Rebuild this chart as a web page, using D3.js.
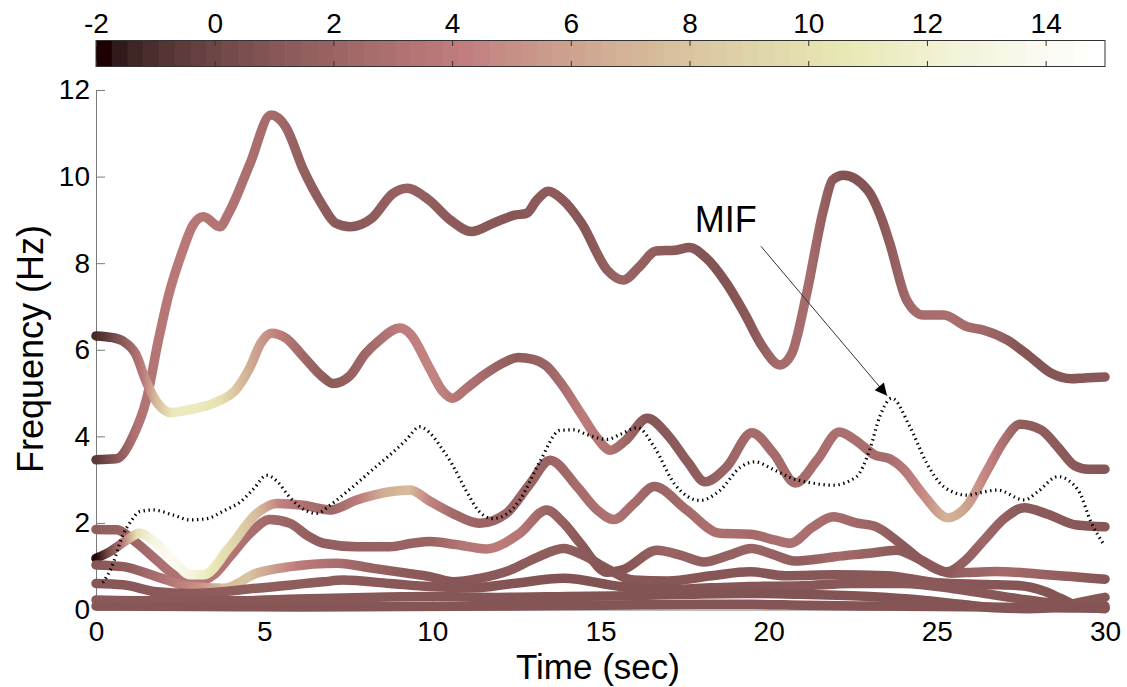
<!DOCTYPE html>
<html><head><meta charset="utf-8">
<script src="https://cdn.jsdelivr.net/npm/d3@7/dist/d3.min.js"></script>
<style>
body{margin:0;background:#fff;}
svg{display:block;font-family:"Liberation Sans",Arial,Helvetica,sans-serif;}
</style>
</head><body>
<svg id="chart" width="1127" height="687"></svg>
<script>
// ---------------- DATA ----------------
const colorbarTicks = [-2,0,2,4,6,8,10,12,14];
const xTicks = [0,5,10,15,20,25,30];
const yTicks = [0,2,4,6,8,10,12];

// IMF instantaneous frequency curves: [time (s), frequency (Hz)]
const curveA = [[0,3.46],[0.6,3.48],[1.1,4.0],[1.5,4.85],[1.85,6.2],[2.14,7.2],[2.56,8.25],[2.9,8.9],[3.2,9.07],[3.68,8.84],[3.94,9.15],[4.58,10.3],[5.2,11.42],[5.64,11.15],[6.17,10.15],[6.7,9.38],[7.13,8.92],[7.55,8.84],[8.19,9.03],[8.83,9.61],[9.25,9.73],[9.9,9.46],[10.53,9.0],[11.16,8.73],[11.8,8.92],[12.44,9.11],[12.8,9.15],[13.1,9.45],[13.45,9.66],[13.85,9.48],[14.44,8.92],[15.2,7.84],[15.68,7.61],[16.16,7.92],[16.65,8.28],[17.23,8.3],[17.65,8.36],[18.1,8.15],[18.75,7.53],[19.28,6.84],[19.82,6.07],[20.34,5.65],[20.68,5.9],[21.13,7.3],[21.63,9.23],[21.9,9.92],[22.22,10.03],[22.94,9.69],[23.37,9.0],[23.6,8.46],[24.1,7.15],[24.6,6.8],[25.2,6.8],[25.9,6.53],[26.4,6.45],[27.1,6.22],[27.77,5.84],[28.42,5.45],[29.0,5.33],[29.4,5.35],[30,5.37]];
const curveB = [[0,6.32],[0.5,6.28],[0.8,6.2],[1.18,5.9],[1.5,5.25],[1.8,4.8],[2.24,4.55],[2.8,4.62],[3.6,4.8],[4.15,5.07],[4.58,5.6],[4.9,6.15],[5.22,6.38],[5.64,6.27],[6.17,5.84],[6.7,5.4],[7.05,5.22],[7.55,5.4],[8.0,5.9],[8.4,6.2],[9.04,6.5],[9.36,6.35],[9.9,5.6],[10.3,5.05],[10.6,4.88],[11.0,5.1],[11.5,5.4],[12.0,5.65],[12.55,5.82],[13.0,5.78],[13.4,5.62],[13.8,5.25],[14.44,4.5],[14.87,3.99],[15.3,3.68],[15.74,3.9],[16.39,4.42],[17.03,4.0],[17.6,3.4],[18.11,2.95],[18.76,3.3],[19.5,4.08],[20.15,3.6],[20.8,2.92],[21.44,3.45],[22.1,4.1],[22.6,3.9],[23.15,3.57],[23.6,3.48],[24.0,3.25],[24.55,2.7],[25.33,2.12],[25.87,2.37],[26.5,3.22],[27.0,3.9],[27.47,4.28],[28.1,4.15],[28.6,3.75],[29.1,3.32],[29.5,3.24],[30,3.24]];
const curveE = [[0,1.18],[0.42,1.34],[0.91,1.6],[1.3,1.76],[1.8,1.53],[2.3,1.14],[2.8,0.8],[3.19,0.8],[3.98,1.45],[4.78,2.22],[5.37,2.45],[6.16,2.41],[6.96,2.3],[7.75,2.53],[8.74,2.72],[9.34,2.76],[9.93,2.5],[10.6,2.22],[11.4,1.99],[12.2,2.22],[12.9,2.9],[13.5,3.45],[14.3,2.84],[14.9,2.3],[15.4,2.08],[16.0,2.45],[16.6,2.84],[17.56,2.3],[18.55,1.76],[19.45,1.74],[20.2,1.6],[20.64,1.53],[21.3,1.9],[21.92,2.14],[22.6,2.0],[23.2,1.91],[23.9,1.53],[24.6,1.1],[25.3,0.87],[25.8,1.1],[26.4,1.6],[27.0,2.1],[27.6,2.35],[28.3,2.2],[29.16,1.95],[30,1.91]];
const curveC = [[0,1.85],[0.62,1.84],[1.11,1.6],[1.8,1.14],[2.4,0.76],[3.0,0.64],[3.5,0.8],[3.98,1.22],[4.58,1.76],[5.17,2.08],[5.77,1.99],[6.3,1.7],[6.76,1.53],[7.75,1.45],[8.74,1.45],[9.4,1.53],[9.93,1.57],[10.7,1.5],[11.6,1.4],[12.6,1.76],[13.4,2.3],[13.9,2.0],[14.4,1.53],[15.2,0.86],[15.7,0.93],[16.68,1.37],[17.4,1.25],[18.08,1.1],[18.8,1.25],[19.49,1.41],[20.1,1.28],[20.78,1.12],[21.4,1.16],[21.97,1.22],[23.0,1.3],[23.8,1.37],[24.5,1.15],[25.43,0.84],[26.1,0.86],[26.73,0.88],[28.0,0.82],[29.0,0.76],[30,0.7]];
const curveF = [[0,1.03],[0.81,0.99],[1.8,0.76],[2.8,0.53],[3.79,0.49],[4.78,0.84],[5.77,0.99],[7.16,1.07],[8.25,0.95],[9.24,0.84],[9.93,0.76],[10.62,0.64],[11.4,0.72],[12.31,0.91],[13.1,1.2],[13.9,1.41],[14.5,1.25],[15.18,0.95],[15.98,0.68],[17.0,0.66],[18.3,0.78],[19.45,0.87],[20.5,0.78],[22.0,0.8],[23.5,0.78],[25.0,0.62],[26.5,0.58],[27.5,0.55],[28.2,0.42],[28.7,0.25],[29.3,0.06],[30,0.02]];
const curveG = [[0,0.6],[0.81,0.57],[1.8,0.41],[2.8,0.37],[4.78,0.49],[6.76,0.64],[7.35,0.68],[8.74,0.6],[9.93,0.53],[11.2,0.5],[12.4,0.6],[13.9,0.72],[15.6,0.53],[17.0,0.46],[18.3,0.5],[19.45,0.53],[21.0,0.55],[22.5,0.6],[24.0,0.6],[25.5,0.48],[26.5,0.36],[27.5,0.24],[28.5,0.14],[30,0.08]];
const curveH = [[0,0.22],[2,0.2],[4,0.2],[6,0.24],[8,0.28],[10,0.3],[12,0.28],[14,0.3],[16,0.32],[18,0.36],[19.5,0.37],[21,0.35],[23,0.3],[24.5,0.22],[25.7,0.12],[26.7,0.04],[27.7,0.02],[28.7,0.07],[29.2,0.16],[30,0.28]];
const curveI = [[0,0.08],[3,0.07],[6,0.06],[9,0.07],[12,0.08],[15,0.1],[18,0.12],[19.5,0.12],[21,0.1],[23,0.08],[25,0.07],[27,0.05],[30,0.03]];

// amplitude (colour value) along each curve: [time (s), value]
const ampA = [[0,-0.6],[0.5,0.8],[1.2,3.2],[2.5,3.8],[4,3.2],[5.2,2.6],[6.2,1.6],[7.5,1.1],[9.2,1.8],[10.5,1.3],[12.4,1.0],[13.5,1.4],[14.5,1.0],[15.6,2.0],[17,1.3],[18.5,0.8],[19.5,1.2],[20.3,2.6],[21.2,2.6],[22.2,0.8],[23.2,1.0],[24.3,2.6],[25.5,2.8],[26.5,2.2],[27.5,0.9],[29,1.0],[30,1.2]];
const ampB = [[0,-1.2],[0.5,0.2],[1.0,2.0],[1.4,4.0],[1.8,7.5],[2.3,11],[3.0,11.2],[3.7,10],[4.3,7.5],[4.9,5.5],[5.4,4.2],[6.2,2.2],[7.0,1.3],[8.0,2.2],[9.0,4.0],[10.0,4.5],[11.0,3.2],[12.5,1.4],[13.4,2.0],[14.5,4.0],[15.3,3.2],[16.4,1.0],[18.0,1.5],[19.5,2.6],[21.0,2.6],[22.1,3.0],[23.5,2.6],[24.5,4.5],[25.3,7.0],[25.9,6.0],[26.6,4.2],[27.5,1.5],[30,1.0]];
const ampE = [[0,-1.8],[0.35,0.2],[0.8,4],[1.2,10],[1.7,13],[2.3,14],[2.9,12.5],[3.4,11],[4.0,9.5],[4.8,7.5],[5.5,4.2],[6.2,3],[7.0,2.2],[7.8,4],[8.5,6.5],[9.3,7.5],[9.9,4.5],[10.6,2.5],[11.4,2],[13.5,2],[14.3,2.6],[15.4,3.2],[16.6,2],[17.6,2.6],[18.5,3],[19.5,2.5],[20.6,3],[22,2.6],[23.2,2],[24,1.2],[25.3,1.2],[26.4,2.2],[27.4,1.3],[30,1]];
const ampC = [[0,1.5],[1,2],[2,3],[3,3.6],[4,3.4],[5.2,2.4],[6.5,1.5],[8,1.8],[10,2],[11,3.5],[12,4],[12.6,3.5],[13.4,2],[14.5,1.2],[15.5,0.8],[17,2],[18,1.5],[19.5,2],[21,1.5],[22,2.5],[23.8,1.3],[25.4,1.5],[27,2.5],[30,1]];
const ampF = [[0,1],[1,1.5],[2,3.2],[3,5],[3.8,7.5],[4.5,8],[5.2,6],[6,4],[7,3],[8,2],[9.5,1.2],[10.6,1],[12.3,1.3],[13.9,1.5],[15,1],[20,1],[25,1.1],[30,0.8]];
const ampG = [[0,1],[5,1.5],[10,1],[15,0.8],[20,1],[25,1.2],[30,0.8]];
const ampH = [[0,1.2],[10,1],[20,0.8],[30,1]];
const ampI = [[0,1],[15,0.9],[30,0.9]];

// MIF (mean instantaneous frequency), dotted
const mif = [[0.2,0.62],[0.45,0.95],[0.8,1.72],[1.05,2.05],[1.3,2.26],[1.7,2.3],[2.3,2.18],[2.8,2.07],[3.3,2.1],[3.8,2.28],[4.3,2.49],[4.7,2.8],[5.07,3.1],[5.4,2.95],[5.7,2.65],[6.0,2.41],[6.56,2.22],[6.96,2.41],[7.35,2.65],[7.75,2.91],[8.25,3.25],[8.74,3.57],[9.2,3.9],[9.63,4.22],[9.9,4.1],[10.3,3.7],[10.6,3.34],[11.0,2.75],[11.4,2.26],[11.8,2.1],[12.2,2.2],[12.6,2.53],[13.2,3.42],[13.8,4.14],[14.2,4.15],[14.6,4.04],[15.2,3.93],[15.6,4.05],[16.1,4.2],[16.6,3.75],[17.2,2.9],[17.96,2.52],[18.55,2.75],[19.15,3.28],[19.6,3.41],[20.1,3.25],[20.7,3.03],[21.3,2.92],[21.9,2.87],[22.6,3.06],[23.0,3.68],[23.3,4.45],[23.66,4.88],[24.2,4.22],[24.7,3.38],[25.2,2.84],[25.9,2.64],[26.3,2.7],[26.8,2.76],[27.6,2.53],[28.0,2.72],[28.6,3.07],[29.2,2.76],[29.6,1.99],[29.95,1.52]];

const mifLabel = "MIF";
const mifLabelPos = [17.8, 8.72];
const arrowFrom = [19.77, 8.39];
const arrowTo = [23.52, 4.94];

// ---------------- COLORMAP (MATLAB "pink", 64 levels) ----------------
function pinkMap(m){
  const n = Math.floor(3/8*m);
  const out = [];
  for (let i=0;i<m;i++){
    const gr = i/(m-1);
    const r = i<n ? (i+1)/n : 1;
    const g = i<n ? 0 : (i<2*n ? (i-n+1)/n : 1);
    const b = i<2*n ? 0 : (i-2*n+1)/(m-2*n);
    out.push(d3.rgb(255*Math.sqrt((2*gr+r)/3),255*Math.sqrt((2*gr+g)/3),255*Math.sqrt((2*gr+b)/3)).formatHex());
  }
  return out;
}
const cmap = pinkMap(64);
const cMin = -2, cMax = 15;
const colorScale = d3.scaleLinear()
  .domain(cmap.map((c,i)=> cMin + (i+0.5)*(cMax-cMin)/64))
  .range(cmap).clamp(true).interpolate(d3.interpolateRgb);

// ---------------- LAYOUT ----------------
const svg = d3.select("#chart");
const x = d3.scaleLinear().domain([0,30]).range([96,1105]);
const y = d3.scaleLinear().domain([0,12]).range([609.5,90]);
const axisGray = "#7a7a7a";
const tickFont = 28;
const fontFam = '"Liberation Sans",Arial,sans-serif';

// ---------------- COLORBAR ----------------
const cb = {top:40, height:27};
const cbx = d3.scaleLinear().domain([cMin,cMax]).range([96,1105]);
svg.append("g").selectAll("rect.cell").data(cmap).join("rect")
  .attr("class","cell")
  .attr("x",(c,i)=>cbx(cMin + i*(cMax-cMin)/64))
  .attr("width",(c,i)=>cbx(cMin + (i+1)*(cMax-cMin)/64)-cbx(cMin + i*(cMax-cMin)/64)+0.6)
  .attr("y",cb.top).attr("height",cb.height)
  .attr("fill",c=>c);
const cbTop = svg.append("g").attr("transform",`translate(0,${cb.top})`)
  .call(d3.axisTop(cbx).tickValues(colorbarTicks).tickFormat(d=>String(d)).tickSizeInner(-6).tickSizeOuter(0).tickPadding(7));
const cbBot = svg.append("g").attr("transform",`translate(0,${cb.top+cb.height})`)
  .call(d3.axisBottom(cbx).tickValues(colorbarTicks).tickFormat("").tickSizeInner(-6).tickSizeOuter(0));
[cbTop,cbBot].forEach(g=>{
  g.select(".domain").remove();
  g.selectAll(".tick line").attr("stroke","#333").attr("stroke-width",1);
  g.selectAll("text").attr("font-size",tickFont).attr("fill","#000").attr("font-family",fontFam);
});
svg.append("rect").attr("x",cbx(cMin)).attr("y",cb.top+0.5)
  .attr("width",cbx(cMax)-cbx(cMin)).attr("height",cb.height-1)
  .attr("fill","none").attr("stroke","#333").attr("stroke-width",1);

// ---------------- AXES ----------------
const xAxisG = svg.append("g").attr("transform",`translate(0,${y(0)})`)
  .call(d3.axisBottom(x).tickValues(xTicks).tickFormat(d=>String(d)).tickSizeInner(-9).tickSizeOuter(0).tickPadding(11.5));
const yAxisG = svg.append("g").attr("transform",`translate(${x(0)},0)`)
  .call(d3.axisLeft(y).tickValues(yTicks).tickFormat(d=>String(d)).tickSizeInner(-9).tickSizeOuter(0).tickPadding(6));
[xAxisG,yAxisG].forEach(g=>{
  g.select(".domain").attr("stroke",axisGray);
  g.selectAll(".tick line").attr("stroke",axisGray);
  g.selectAll("text").attr("font-size",tickFont).attr("fill","#000").attr("font-family",fontFam);
});

svg.append("text").attr("x",598).attr("y",679).attr("text-anchor","middle")
  .attr("font-size",35).text("Time (sec)");
svg.append("text").attr("transform","translate(43,349) rotate(-90)")
  .attr("text-anchor","middle").attr("font-size",36).text("Frequency (Hz)");

// ---------------- CURVES ----------------
const defs = svg.append("defs");
const line = d3.line().x(d=>x(d[0])).y(d=>y(d[1])).curve(d3.curveMonotoneX);
const curves = [
  {id:"A", pts:curveA, amp:ampA},
  {id:"B", pts:curveB, amp:ampB},
  {id:"C", pts:curveC, amp:ampC},
  {id:"E", pts:curveE, amp:ampE},
  {id:"F", pts:curveF, amp:ampF},
  {id:"G", pts:curveG, amp:ampG},
  {id:"H", pts:curveH, amp:ampH},
  {id:"I", pts:curveI, amp:ampI}
];
curves.forEach(c=>{
  const grad = defs.append("linearGradient").attr("id","g"+c.id)
    .attr("gradientUnits","userSpaceOnUse")
    .attr("x1",x(0)).attr("x2",x(30)).attr("y1",0).attr("y2",0);
  grad.selectAll("stop").data(c.amp).join("stop")
    .attr("offset",d=>d[0]/30)
    .attr("stop-color",d=>colorScale(d[1]));
});
const plotG = svg.append("g");
plotG.selectAll("path.imf").data(curves).join("path")
  .attr("class","imf")
  .attr("d",c=>line(c.pts))
  .attr("fill","none")
  .attr("stroke",c=>`url(#g${c.id})`)
  .attr("stroke-width",9.5)
  .attr("stroke-linecap","round")
  .attr("stroke-linejoin","round");

// MIF dotted line
plotG.append("path").attr("d",line(mif))
  .attr("fill","none").attr("stroke","#000")
  .attr("stroke-width",3.2).attr("stroke-dasharray","1.4,3.6");

// ---------------- ANNOTATION ----------------
defs.append("marker").attr("id","arrowhead")
  .attr("viewBox","0 0 10 10").attr("refX",10).attr("refY",5)
  .attr("markerUnits","userSpaceOnUse").attr("markerWidth",17).attr("markerHeight",12)
  .attr("orient","auto")
  .append("path").attr("d","M0,0 L10,5 L0,10 z").attr("fill","#000");
svg.append("line")
  .attr("x1",x(arrowFrom[0])).attr("y1",y(arrowFrom[1]))
  .attr("x2",x(arrowTo[0])).attr("y2",y(arrowTo[1]))
  .attr("stroke","#333").attr("stroke-width",1)
  .attr("marker-end","url(#arrowhead)");
svg.append("text").attr("x",x(mifLabelPos[0])).attr("y",y(mifLabelPos[1]))
  .attr("font-size",36).attr("fill","#000").text(mifLabel);
</script>
</body></html>
